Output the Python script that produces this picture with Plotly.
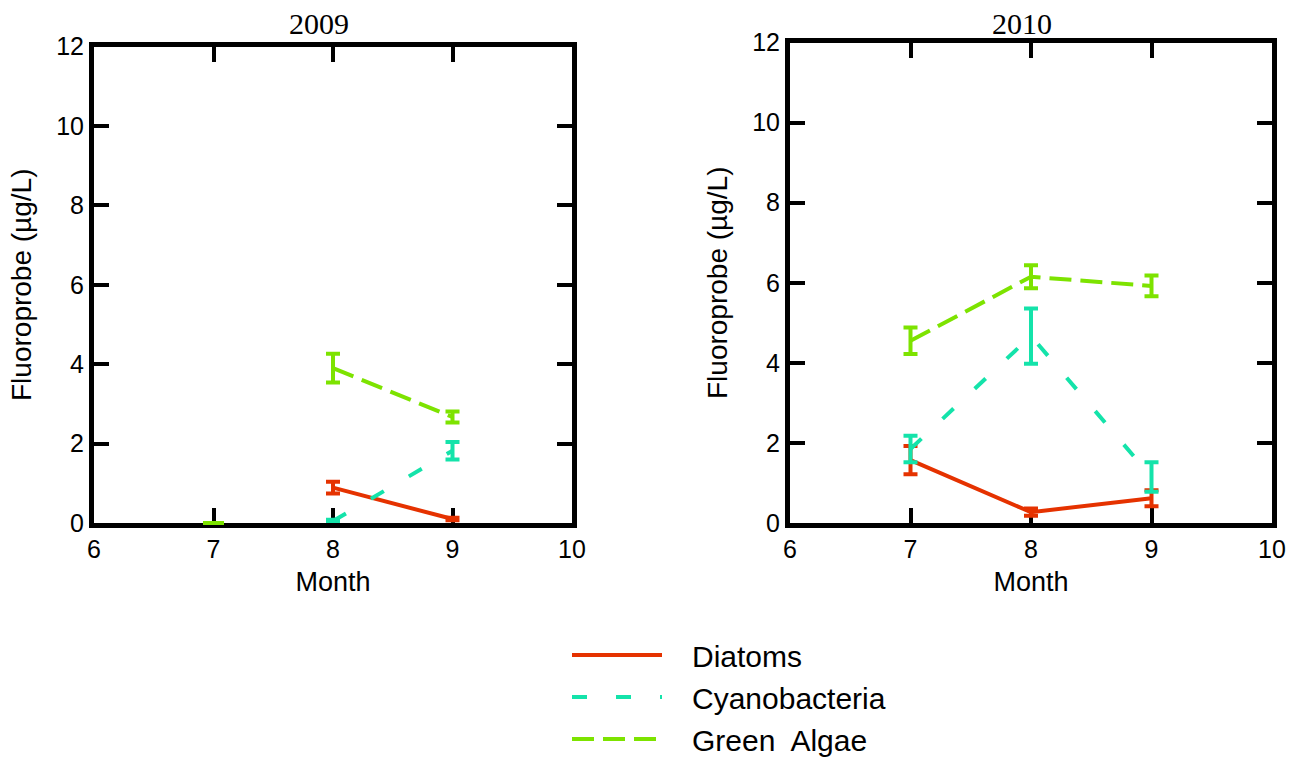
import plotly.graph_objects as go

# ---- data -------------------------------------------------------------
months = [7, 8, 9]
series_names = ["Diatoms", "Cyanobacteria", "Green\u00a0 Algae"]

# 2009 (July not sampled: plotted at zero, not joined to the later months)
diatoms_2009 = [0.0, 0.89, 0.10]
diatoms_2009_err = [0.0, 0.15, 0.03]
cyano_2009 = [0.0, 0.05, 1.82]
cyano_2009_err = [0.0, 0.03, 0.22]
green_2009 = [0.0, 3.90, 2.67]
green_2009_err = [0.0, 0.36, 0.14]
sampled_2009 = [False, True, True]

# 2010
diatoms_2010 = [1.57, 0.27, 0.62]
diatoms_2010_err = [0.35, 0.09, 0.20]
cyano_2010 = [1.85, 4.67, 1.15]
cyano_2010_err = [0.33, 0.69, 0.37]
green_2010 = [4.55, 6.15, 5.92]
green_2010_err = [0.33, 0.29, 0.26]
sampled_2010 = [True, True, True]

x_ticks = [6, 7, 8, 9, 10]
y_ticks = [0, 2, 4, 6, 8, 10, 12]

# ---- styling ----------------------------------------------------------
W, H = 1297, 762
SANS = "Arial, Liberation Sans, sans-serif"
SERIF = "Times New Roman, Liberation Serif, serif"
colors = ["#E53200", "#14E3AA", "#7DE300"]
dashes = ["solid", "15px,29px", "22px,9px"]
LEGEND_PAD = "\u00a0\u00a0\u00a0"  # spacing between legend sample and label

panels = [
    dict(year="2009", values=[diatoms_2009, cyano_2009, green_2009],
         errors=[diatoms_2009_err, cyano_2009_err, green_2009_err],
         sampled=sampled_2009, xa="x", ya="y",
         px=(94, 572), py=(46.5, 523), title_x=319),
    dict(year="2010", values=[diatoms_2010, cyano_2010, green_2010],
         errors=[diatoms_2010_err, cyano_2010_err, green_2010_err],
         sampled=sampled_2010, xa="x2", ya="y2",
         px=(790, 1272), py=(42.5, 523), title_x=1022),
]

fig = go.Figure()

for p_i, p in enumerate(panels):
    for s_i, name in enumerate(series_names):
        vals, errs = p["values"][s_i], p["errors"][s_i]
        on = [i for i, s in enumerate(p["sampled"]) if s]
        off = [i for i, s in enumerate(p["sampled"]) if not s]
        fig.add_trace(go.Scatter(
            x=[months[i] for i in on], y=[vals[i] for i in on],
            mode="lines", name=LEGEND_PAD + name, legendgroup=name,
            showlegend=(p_i == 0),
            line=dict(color=colors[s_i], width=4, dash=dashes[s_i]),
            error_y=dict(type="data", array=[errs[i] for i in on],
                         color=colors[s_i], thickness=4, width=7),
            cliponaxis=False, xaxis=p["xa"], yaxis=p["ya"],
            hoverinfo="x+y",
        ))
        if off:
            fig.add_trace(go.Scatter(
                x=[months[i] for i in off], y=[vals[i] for i in off],
                mode="markers", name=name, legendgroup=name, showlegend=False,
                marker=dict(symbol="line-ew", size=15,
                            line=dict(color=colors[s_i], width=4)),
                cliponaxis=False, xaxis=p["xa"], yaxis=p["ya"],
            ))

axis_common = dict(
    showline=True, linecolor="black", linewidth=5, mirror="ticks",
    ticks="inside", ticklen=15, tickwidth=4, tickcolor="black",
    showgrid=False, zeroline=False, layer="below traces", fixedrange=True,
    automargin=False,
    tickfont=dict(family=SANS, size=25, color="black"),
)

layout_axes = {}
annotations = []
for p_i, p in enumerate(panels):
    sfx = "" if p_i == 0 else str(p_i + 1)
    x0, x1 = p["px"]
    y0, y1 = p["py"]
    layout_axes["xaxis" + sfx] = dict(
        axis_common, range=[6, 10], tickvals=x_ticks,
        domain=[x0 / W, x1 / W], anchor="y" + sfx,
        title=dict(text="Month", font=dict(family=SANS, size=27, color="black"),
                   standoff=12),
    )
    layout_axes["yaxis" + sfx] = dict(
        axis_common, range=[0, 12], tickvals=y_ticks,
        domain=[1 - y1 / H, 1 - y0 / H], anchor="x" + sfx,
        title=dict(text="Fluoroprobe (µg/L)",
                   font=dict(family=SANS, size=28, color="black"), standoff=18),
    )
    annotations.append(dict(
        text=p["year"], x=p["title_x"] / W, y=1 - 23 / H,
        xref="paper", yref="paper", xanchor="center", yanchor="middle",
        showarrow=False, font=dict(family=SERIF, size=30, color="black"),
    ))

fig.update_layout(
    width=W, height=H,
    margin=dict(l=0, r=0, t=0, b=0, autoexpand=False),
    paper_bgcolor="white", plot_bgcolor="white",
    annotations=annotations,
    legend=dict(
        x=567 / W, y=1 - 629 / H, xanchor="left", yanchor="top",
        font=dict(family=SANS, size=30, color="black"),
        itemwidth=90, bgcolor="rgba(0,0,0,0)", borderwidth=0,
        traceorder="normal",
    ),
    **layout_axes,
)

fig.write_html("out.html", config={"displayModeBar": False})
